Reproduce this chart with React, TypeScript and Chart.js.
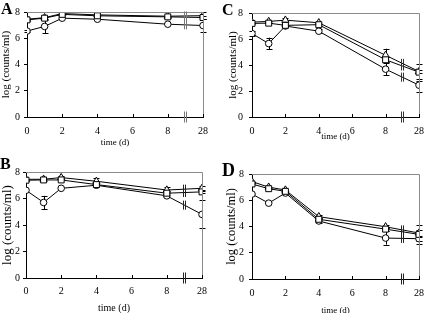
import React, { useEffect, useRef } from "react";
import { Chart, registerables } from "chart.js";

Chart.register(...registerables);

// ---------- data ----------
const timePositions = [0, 1, 2, 4, 8, 10];
const xTickValues = [0, 2, 4, 6, 8, 10];
const xTickLabels = ["0", "2", "4", "6", "8", "28"];
const breakPosition = 9;
const yMin = 0;
const yMax = 8;

const aSquares = [7.4, 7.53, 7.82, 7.71, 7.63, 7.58];
const aSquaresErr = [0, 0, 0, 0, 0, 0.1];
const aTriangles = [7.45, 7.57, 7.88, 7.78, 7.68, 7.72];
const aTrianglesErr = [0, 0, 0, 0, 0, 0.25];
const aCircles = [6.55, 6.9, 7.53, 7.45, 7.07, 6.97];
const aCirclesErr = [0.1, 0.52, 0, 0, 0, 0.5];

const bSquares = [7.38, 7.4, 7.4, 7.05, 6.4, 6.5];
const bSquaresErr = [0, 0, 0, 0, 0, 0.1];
const bTriangles = [7.45, 7.45, 7.58, 7.3, 6.64, 6.77];
const bTrianglesErr = [0, 0, 0.1, 0.25, 0.2, 0.15];
const bCircles = [6.62, 5.7, 6.77, 7.0, 6.2, 4.8];
const bCirclesErr = [0, 0.5, 0, 0, 0, 1.05];

const cSquares = [7.2, 7.22, 7.05, 7.1, 4.4, 3.45];
const cSquaresErr = [0, 0, 0, 0, 0.2, 0.65];
const cTriangles = [7.3, 7.35, 7.45, 7.25, 4.75, 3.5];
const cTrianglesErr = [0, 0, 0.2, 0, 0.5, 0.1];
const cCircles = [6.42, 5.65, 7.0, 6.6, 3.68, 2.45];
const cCirclesErr = [0.2, 0.45, 0, 0.15, 0.45, 0.5];

const dSquares = [7.24, 6.88, 6.68, 4.55, 3.8, 3.4];
const dSquaresErr = [0, 0, 0, 0, 0.15, 0.75];
const dTriangles = [7.42, 7.0, 6.78, 4.75, 3.98, 3.5];
const dTrianglesErr = [0, 0, 0, 0.1, 0.1, 0.2];
const dCircles = [6.47, 5.78, 6.55, 4.42, 3.12, 3.07];
const dCirclesErr = [0, 0, 0, 0.15, 0.5, 0.15];

const yTitle = "log (counts/ml)";
const xTitle = "time (d)";

// ---------- layout ----------
type Series = { values: number[]; errors: number[]; style: string; radius: number };

type PanelCfg = {
  letter: string;
  left: number;
  top: number;
  w: number;
  h: number;
  plotL: number;
  plotR: number;
  plotT: number;
  plotB: number;
  yTitleSize: number;
  yTitlePad: number;
  xTitleSize: number;
  xTitlePad: number;
  yTickPad: number;
  xTickPad: number;
  letterX: number;
  letterBase: number;
  letterSize: number;
  breakColor: string;
  series: Series[];
};

const mk = (values: number[], errors: number[], style: string, radius: number): Series => ({
  values,
  errors,
  style,
  radius,
});

const panels: PanelCfg[] = [
  {
    letter: "A", left: 0, top: 0, w: 216, h: 156,
    plotL: 27, plotR: 203, plotT: 12, plotB: 117,
    yTitleSize: 11, yTitlePad: 0, xTitleSize: 9, xTitlePad: 7.6,
    yTickPad: 4, xTickPad: 8,
    letterX: 1, letterBase: 14, letterSize: 16, breakColor: "#777",
    series: [
      mk(aSquares, aSquaresErr, "rect", 4.2),
      mk(aTriangles, aTrianglesErr, "triangle", 4.2),
      mk(aCircles, aCirclesErr, "circle", 3.3),
    ],
  },
  {
    letter: "C", left: 216, top: 0, w: 216, h: 156,
    plotL: 36, plotR: 212, plotT: 13, plotB: 117,
    yTitleSize: 11, yTitlePad: 10.4, xTitleSize: 9, xTitlePad: 13.6,
    yTickPad: 6, xTickPad: 8,
    letterX: 6, letterBase: 15, letterSize: 16, breakColor: "#333",
    series: [
      mk(cSquares, cSquaresErr, "rect", 4.2),
      mk(cTriangles, cTrianglesErr, "triangle", 4.2),
      mk(cCircles, cCirclesErr, "circle", 3.3),
    ],
  },
  {
    letter: "B", left: 0, top: 156, w: 216, h: 160,
    plotL: 26, plotR: 202, plotT: 16, plotB: 122,
    yTitleSize: 13, yTitlePad: 0, xTitleSize: 10, xTitlePad: 2,
    yTickPad: 3, xTickPad: 7,
    letterX: 0, letterBase: 13, letterSize: 16, breakColor: "#222",
    series: [
      mk(bSquares, bSquaresErr, "rect", 4.2),
      mk(bTriangles, bTrianglesErr, "triangle", 4.2),
      mk(bCircles, bCirclesErr, "circle", 3.3),
    ],
  },
  {
    letter: "D", left: 216, top: 156, w: 216, h: 160,
    plotL: 36, plotR: 212, plotT: 18, plotB: 123,
    yTitleSize: 12.5, yTitlePad: 8, xTitleSize: 9, xTitlePad: 0,
    yTickPad: 5, xTickPad: 8,
    letterX: 6, letterBase: 20, letterSize: 18, breakColor: "#222",
    series: [
      mk(dSquares, dSquaresErr, "rect", 4.2),
      mk(dTriangles, dTrianglesErr, "triangle", 4.2),
      mk(dCircles, dCirclesErr, "circle", 3.3),
    ],
  },
];

const FONT = "'Liberation Serif', 'Times New Roman', serif";

function makeDecor(cfg: PanelCfg) {
  return {
    id: "decor" + cfg.letter,
    beforeDatasetsDraw(chart: any) {
      const { ctx, chartArea } = chart;
      const xs = chart.scales.x;
      const ys = chart.scales.y;
      ctx.save();
      ctx.beginPath();
      ctx.rect(chartArea.left - 6, chartArea.top, chartArea.right - chartArea.left + 12, chartArea.bottom - chartArea.top);
      ctx.clip();
      ctx.strokeStyle = "#000";
      ctx.lineWidth = 1;
      cfg.series.forEach((s) => {
        s.values.forEach((v, i) => {
          const e = s.errors[i];
          if (!e) return;
          const px = Math.round(xs.getPixelForValue(timePositions[i])) + 0.5;
          const t = ys.getPixelForValue(v + e);
          const b = ys.getPixelForValue(v - e);
          ctx.beginPath();
          ctx.moveTo(px, t);
          ctx.lineTo(px, b);
          ctx.moveTo(px - 3, Math.round(t) + 0.5);
          ctx.lineTo(px + 3, Math.round(t) + 0.5);
          ctx.moveTo(px - 3, Math.round(b) + 0.5);
          ctx.lineTo(px + 3, Math.round(b) + 0.5);
          ctx.stroke();
        });
      });
      ctx.restore();
    },
    afterDatasetsDraw(chart: any) {
      const { ctx, chartArea } = chart;
      const xs = chart.scales.x;
      const ys = chart.scales.y;
      ctx.save();
      // gray frame (top and right)
      ctx.strokeStyle = "#8a8a8a";
      ctx.lineWidth = 1;
      ctx.beginPath();
      ctx.moveTo(Math.round(chartArea.left), Math.round(chartArea.top) + 0.5);
      ctx.lineTo(Math.round(chartArea.right) + 0.5, Math.round(chartArea.top) + 0.5);
      ctx.lineTo(Math.round(chartArea.right) + 0.5, Math.round(chartArea.bottom));
      ctx.stroke();
      // x tick marks (inside)
      ctx.strokeStyle = "#000";
      ctx.beginPath();
      xTickValues.forEach((v) => {
        const px = Math.round(xs.getPixelForValue(v)) + 0.5;
        ctx.moveTo(px, Math.round(chartArea.bottom));
        ctx.lineTo(px, Math.round(chartArea.bottom) - 3);
      });
      ctx.stroke();
      // break marks
      ctx.strokeStyle = cfg.breakColor;
      ctx.lineWidth = 1;
      const bx = Math.round(xs.getPixelForValue(breakPosition));
      const drawBreak = (cy: number, len: number) => {
        ctx.beginPath();
        ctx.moveTo(bx - 0.5, cy - len / 2);
        ctx.lineTo(bx - 0.5, cy + len / 2);
        ctx.moveTo(bx + 1.5, cy - len / 2);
        ctx.lineTo(bx + 1.5, cy + len / 2);
        ctx.stroke();
      };
      drawBreak(ys.getPixelForValue(yMin), 11);
      const i0 = timePositions.length - 2;
      const i1 = timePositions.length - 1;
      cfg.series.forEach((s) => {
        const f = (breakPosition - timePositions[i0]) / (timePositions[i1] - timePositions[i0]);
        const v = s.values[i0] + (s.values[i1] - s.values[i0]) * f;
        drawBreak(ys.getPixelForValue(v), 9);
      });
      ctx.restore();
    },
    afterDraw(chart: any) {
      const { ctx } = chart;
      ctx.save();
      ctx.fillStyle = "#000";
      ctx.font = `bold ${cfg.letterSize}px ${FONT}`;
      ctx.textBaseline = "alphabetic";
      ctx.textAlign = "left";
      ctx.fillText(cfg.letter, cfg.letterX, cfg.letterBase);
      ctx.restore();
    },
  };
}

function Panel({ cfg }: { cfg: PanelCfg }) {
  const ref = useRef<HTMLCanvasElement>(null);
  useEffect(() => {
    const canvas = ref.current;
    if (!canvas) return;
    const datasets = cfg.series.map((s) => ({
      data: s.values.map((v, i) => ({ x: timePositions[i], y: v })),
      showLine: true,
      borderColor: "#000",
      borderWidth: 1,
      pointStyle: s.style as any,
      pointRadius: s.radius,
      pointBackgroundColor: "#fff",
      pointBorderColor: "#000",
      pointBorderWidth: 1,
      tension: 0,
    }));
    const chart = new Chart(canvas, {
      type: "scatter",
      data: { datasets },
      options: {
        responsive: false,
        animation: false,
        devicePixelRatio: 1,
        layout: {
          padding: { left: 0, top: cfg.plotT, right: cfg.w - cfg.plotR, bottom: 0 },
        },
        plugins: { legend: { display: false }, tooltip: { enabled: false } },
        scales: {
          x: {
            type: "linear",
            min: timePositions[0],
            max: timePositions[timePositions.length - 1],
            afterBuildTicks: (scale: any) => {
              scale.ticks = xTickValues.map((v) => ({ value: v }));
            },
            afterFit: (scale: any) => {
              scale.height = cfg.h - cfg.plotB;
            },
            grid: { display: false, drawTicks: false, tickLength: 0 },
            border: { display: true, color: "#000", width: 1 },
            ticks: {
              color: "#000",
              padding: cfg.xTickPad,
              maxRotation: 0,
              autoSkip: false,
              font: { family: FONT, size: 10 },
              callback: (v: any) => {
                const idx = xTickValues.indexOf(Number(v));
                return idx >= 0 ? xTickLabels[idx] : "";
              },
            },
            title: {
              display: true,
              text: xTitle,
              color: "#000",
              font: { family: FONT, size: cfg.xTitleSize },
              padding: { top: 0, bottom: cfg.xTitlePad },
            },
          },
          y: {
            type: "linear",
            min: yMin,
            max: yMax,
            afterFit: (scale: any) => {
              scale.width = cfg.plotL;
            },
            grid: {
              display: true,
              drawOnChartArea: false,
              drawTicks: true,
              tickLength: 3,
              color: "#000",
              lineWidth: 1,
            },
            border: { display: true, color: "#000", width: 1 },
            ticks: {
              stepSize: 1,
              color: "#000",
              padding: cfg.yTickPad,
              font: { family: FONT, size: 10 },
            },
            title: {
              display: true,
              text: yTitle,
              color: "#000",
              font: { family: FONT, size: cfg.yTitleSize },
              padding: { top: cfg.yTitlePad, bottom: 0 },
            },
          },
        },
      },
      plugins: [makeDecor(cfg)],
    });
    return () => chart.destroy();
  }, [cfg]);
  return (
    <canvas
      ref={ref}
      width={cfg.w}
      height={cfg.h}
      style={{ position: "absolute", left: cfg.left, top: cfg.top, width: cfg.w, height: cfg.h }}
    />
  );
}

export default function App() {
  return (
    <div
      style={{
        position: "absolute",
        left: 0,
        top: 0,
        width: 432,
        height: 313,
        background: "#fff",
        overflow: "hidden",
      }}
    >
      {panels.map((p) => (
        <Panel key={p.letter} cfg={p} />
      ))}
    </div>
  );
}
